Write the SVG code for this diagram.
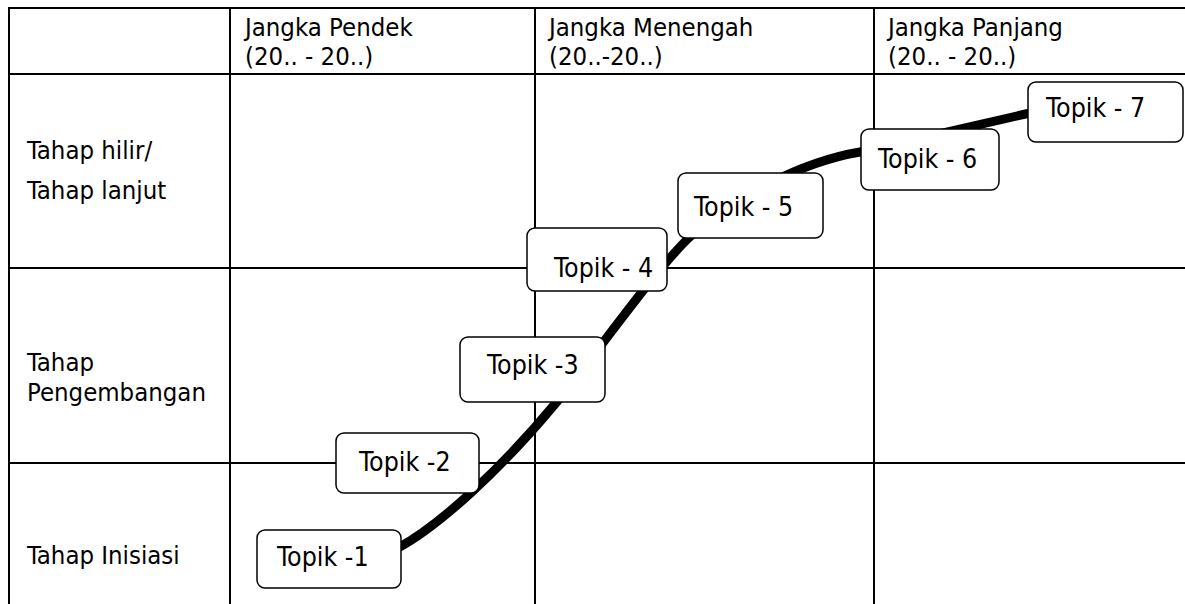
<svg xmlns="http://www.w3.org/2000/svg" width="1185" height="604" viewBox="0 0 1185 604">
<style>
.grid{stroke:#000;stroke-width:2;fill:none}
.t{font-family:"DejaVu Sans Condensed","DejaVu Sans",sans-serif;font-size:25.5px;fill:#000}
.b{font-family:"DejaVu Sans Condensed","DejaVu Sans",sans-serif;font-size:26.5px;fill:#000}
.box{fill:#fff;stroke:#000;stroke-width:1.5}
.curve{fill:none;stroke:#000;stroke-width:9}
</style>
<rect width="1185" height="604" fill="#fff"/>
<g id="grid">
<line class="grid" x1="9" y1="8" x2="1185" y2="8"/>
<line class="grid" x1="9" y1="74" x2="1185" y2="74"/>
<line class="grid" x1="9" y1="268" x2="1185" y2="268"/>
<line class="grid" x1="9" y1="463" x2="1185" y2="463"/>
<line class="grid" x1="9" y1="7" x2="9" y2="604"/>
<line class="grid" x1="230" y1="7" x2="230" y2="604"/>
<line class="grid" x1="535" y1="7" x2="535" y2="604"/>
<line class="grid" x1="874" y1="7" x2="874" y2="604"/>
</g>
<g id="headers">
<text class="t" x="245" y="36">Jangka Pendek</text>
<text class="t" x="245" y="65">(20.. - 20..)</text>
<text class="t" x="549" y="36">Jangka Menengah</text>
<text class="t" x="549" y="65">(20..-20..)</text>
<text class="t" x="888" y="36">Jangka Panjang</text>
<text class="t" x="888" y="65">(20.. - 20..)</text>
</g>
<g id="rows">
<text class="t" x="27" y="159">Tahap hilir/</text>
<text class="t" x="27" y="199">Tahap lanjut</text>
<text class="t" x="27" y="371">Tahap</text>
<text class="t" x="27" y="401">Pengembangan</text>
<text class="t" x="27" y="564">Tahap Inisiasi</text>
</g>
<g id="connectors">
<path class="curve" d="M 398 548 C 440 525, 500 470, 555 404 C 590 363, 657 266, 692 235 C 732 199, 800 162, 860 152 L 1030 113"/>
</g>
<g id="topik-1"><rect class="box" x="257" y="530" width="144" height="58" rx="8"/><text class="b" x="277" y="566">Topik -1</text></g>
<g id="topik-2"><rect class="box" x="336" y="433" width="143" height="60" rx="8"/><text class="b" x="359" y="471">Topik -2</text></g>
<g id="topik-3"><rect class="box" x="460" y="337" width="145" height="65" rx="8"/><text class="b" x="487" y="374">Topik -3</text></g>
<g id="topik-4"><rect class="box" x="527" y="228" width="140" height="63" rx="8"/><text class="b" x="554" y="277">Topik - 4</text></g>
<g id="topik-5"><rect class="box" x="678" y="173" width="145" height="65" rx="8"/><text class="b" x="694" y="216">Topik - 5</text></g>
<g id="topik-6"><rect class="box" x="861" y="129" width="138" height="61" rx="8"/><text class="b" x="878" y="168">Topik - 6</text></g>
<g id="topik-7"><rect class="box" x="1028" y="82" width="155" height="60" rx="8"/><text class="b" x="1046" y="117">Topik - 7</text></g>
</svg>
